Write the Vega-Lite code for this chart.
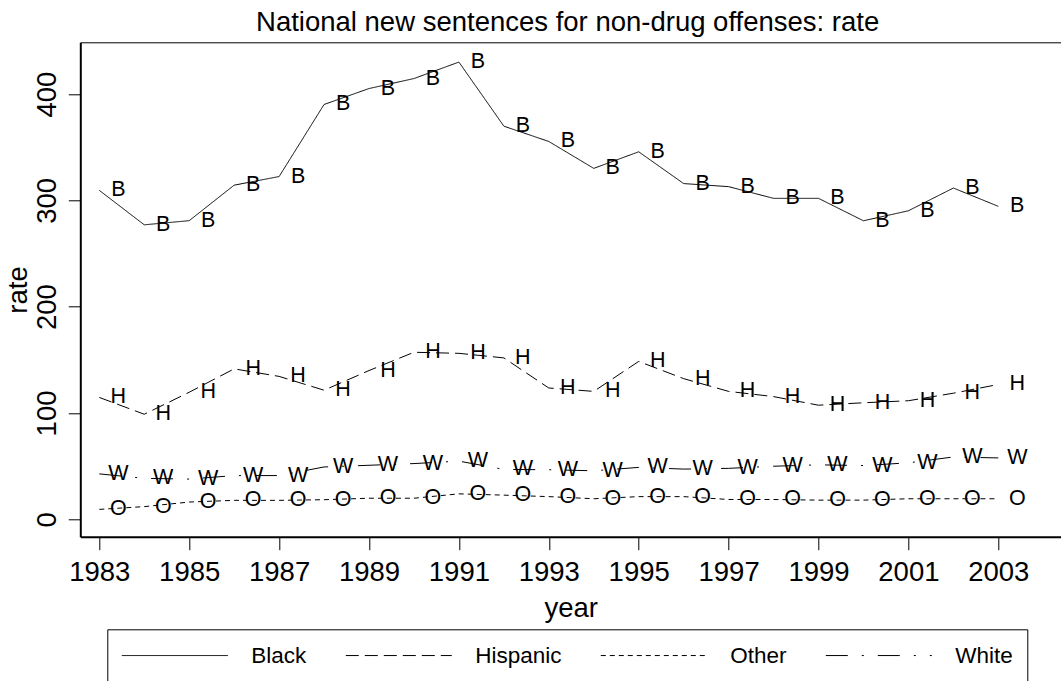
{
  "$schema": "https://vega.github.io/schema/vega-lite/v6.json",
  "autosize": "none",
  "width": 980.7,
  "height": 494.4,
  "padding": {"left": 80.3, "top": 42.3, "right": 0, "bottom": 144.3},
  "background": "white",
  "config": {
    "view": {"stroke": null},
    "font": "Liberation Sans",
    "axis": {"grid": false, "labelFont": "Liberation Sans", "titleFont": "Liberation Sans", "labelColor": "black", "titleColor": "black", "domainColor": "black", "tickColor": "black", "titleFontWeight": "normal"}
  },
  "title": {
    "text": "National new sentences for non-drug offenses: rate",
    "font": "Liberation Sans",
    "fontSize": 27.5,
    "fontWeight": "normal",
    "color": "black",
    "anchor": "middle",
    "frame": "group",
    "baseline": "bottom",
    "offset": -22,
    "dx": -3
  },
  "data": {
    "values": [
      {"year": 1983, "group": "Black", "letter": "B", "rate": 309.4},
      {"year": 1984, "group": "Black", "letter": "B", "rate": 277.0},
      {"year": 1985, "group": "Black", "letter": "B", "rate": 280.9},
      {"year": 1986, "group": "Black", "letter": "B", "rate": 314.3},
      {"year": 1987, "group": "Black", "letter": "B", "rate": 322.4},
      {"year": 1988, "group": "Black", "letter": "B", "rate": 390.2},
      {"year": 1989, "group": "Black", "letter": "B", "rate": 405.2},
      {"year": 1990, "group": "Black", "letter": "B", "rate": 414.6},
      {"year": 1991, "group": "Black", "letter": "B", "rate": 430.1},
      {"year": 1992, "group": "Black", "letter": "B", "rate": 369.8},
      {"year": 1993, "group": "Black", "letter": "B", "rate": 355.4},
      {"year": 1994, "group": "Black", "letter": "B", "rate": 330.1},
      {"year": 1995, "group": "Black", "letter": "B", "rate": 345.7},
      {"year": 1996, "group": "Black", "letter": "B", "rate": 315.8},
      {"year": 1997, "group": "Black", "letter": "B", "rate": 312.9},
      {"year": 1998, "group": "Black", "letter": "B", "rate": 301.9},
      {"year": 1999, "group": "Black", "letter": "B", "rate": 301.9},
      {"year": 2000, "group": "Black", "letter": "B", "rate": 280.8},
      {"year": 2001, "group": "Black", "letter": "B", "rate": 290.2},
      {"year": 2002, "group": "Black", "letter": "B", "rate": 311.6},
      {"year": 2003, "group": "Black", "letter": "B", "rate": 294.4},
      {"year": 1983, "group": "Hispanic", "letter": "H", "rate": 114.6},
      {"year": 1984, "group": "Hispanic", "letter": "H", "rate": 98.8},
      {"year": 1985, "group": "Hispanic", "letter": "H", "rate": 119.5},
      {"year": 1986, "group": "Hispanic", "letter": "H", "rate": 141.5},
      {"year": 1987, "group": "Hispanic", "letter": "H", "rate": 134.4},
      {"year": 1988, "group": "Hispanic", "letter": "H", "rate": 121.4},
      {"year": 1989, "group": "Hispanic", "letter": "H", "rate": 139.9},
      {"year": 1990, "group": "Hispanic", "letter": "H", "rate": 157.1},
      {"year": 1991, "group": "Hispanic", "letter": "H", "rate": 156.1},
      {"year": 1992, "group": "Hispanic", "letter": "H", "rate": 151.8},
      {"year": 1993, "group": "Hispanic", "letter": "H", "rate": 123.5},
      {"year": 1994, "group": "Hispanic", "letter": "H", "rate": 120.3},
      {"year": 1995, "group": "Hispanic", "letter": "H", "rate": 148.5},
      {"year": 1996, "group": "Hispanic", "letter": "H", "rate": 132.3},
      {"year": 1997, "group": "Hispanic", "letter": "H", "rate": 120.3},
      {"year": 1998, "group": "Hispanic", "letter": "H", "rate": 115.4},
      {"year": 1999, "group": "Hispanic", "letter": "H", "rate": 107.3},
      {"year": 2000, "group": "Hispanic", "letter": "H", "rate": 109.6},
      {"year": 2001, "group": "Hispanic", "letter": "H", "rate": 111.5},
      {"year": 2002, "group": "Hispanic", "letter": "H", "rate": 118.6},
      {"year": 2003, "group": "Hispanic", "letter": "H", "rate": 126.8},
      {"year": 1983, "group": "Other", "letter": "O", "rate": 9.3},
      {"year": 1984, "group": "Other", "letter": "O", "rate": 11.9},
      {"year": 1985, "group": "Other", "letter": "O", "rate": 16.2},
      {"year": 1986, "group": "Other", "letter": "O", "rate": 17.8},
      {"year": 1987, "group": "Other", "letter": "O", "rate": 17.8},
      {"year": 1988, "group": "Other", "letter": "O", "rate": 18.4},
      {"year": 1989, "group": "Other", "letter": "O", "rate": 19.8},
      {"year": 1990, "group": "Other", "letter": "O", "rate": 19.8},
      {"year": 1991, "group": "Other", "letter": "O", "rate": 23.9},
      {"year": 1992, "group": "Other", "letter": "O", "rate": 22.7},
      {"year": 1993, "group": "Other", "letter": "O", "rate": 21.3},
      {"year": 1994, "group": "Other", "letter": "O", "rate": 19.3},
      {"year": 1995, "group": "Other", "letter": "O", "rate": 21.3},
      {"year": 1996, "group": "Other", "letter": "O", "rate": 21.3},
      {"year": 1997, "group": "Other", "letter": "O", "rate": 18.6},
      {"year": 1998, "group": "Other", "letter": "O", "rate": 18.6},
      {"year": 1999, "group": "Other", "letter": "O", "rate": 18.0},
      {"year": 2000, "group": "Other", "letter": "O", "rate": 18.0},
      {"year": 2001, "group": "Other", "letter": "O", "rate": 19.3},
      {"year": 2002, "group": "Other", "letter": "O", "rate": 19.3},
      {"year": 2003, "group": "Other", "letter": "O", "rate": 19.3},
      {"year": 1983, "group": "White", "letter": "W", "rate": 42.7},
      {"year": 1984, "group": "White", "letter": "W", "rate": 38.5},
      {"year": 1985, "group": "White", "letter": "W", "rate": 37.8},
      {"year": 1986, "group": "White", "letter": "W", "rate": 41.1},
      {"year": 1987, "group": "White", "letter": "W", "rate": 41.1},
      {"year": 1988, "group": "White", "letter": "W", "rate": 49.2},
      {"year": 1989, "group": "White", "letter": "W", "rate": 50.8},
      {"year": 1990, "group": "White", "letter": "W", "rate": 52.4},
      {"year": 1991, "group": "White", "letter": "W", "rate": 54.7},
      {"year": 1992, "group": "White", "letter": "W", "rate": 46.9},
      {"year": 1993, "group": "White", "letter": "W", "rate": 46.6},
      {"year": 1994, "group": "White", "letter": "W", "rate": 45.6},
      {"year": 1995, "group": "White", "letter": "W", "rate": 48.8},
      {"year": 1996, "group": "White", "letter": "W", "rate": 47.2},
      {"year": 1997, "group": "White", "letter": "W", "rate": 47.9},
      {"year": 1998, "group": "White", "letter": "W", "rate": 49.9},
      {"year": 1999, "group": "White", "letter": "W", "rate": 51.2},
      {"year": 2000, "group": "White", "letter": "W", "rate": 50.5},
      {"year": 2001, "group": "White", "letter": "W", "rate": 53.1},
      {"year": 2002, "group": "White", "letter": "W", "rate": 58.6},
      {"year": 2003, "group": "White", "letter": "W", "rate": 57.7}
    ]
  },
  "resolve": {"axis": {"x": "independent"}},
  "layer": [
    {
      "mark": {"type": "line", "color": "black", "strokeWidth": 1},
      "encoding": {
        "x": {
          "field": "year", "type": "quantitative",
          "scale": {"domain": [1982.577, 2004.395], "nice": false, "zero": false},
          "axis": {
            "orient": "bottom",
            "values": [1983, 1985, 1987, 1989, 1991, 1993, 1995, 1997, 1999, 2001, 2003],
            "format": "d",
            "title": "year",
            "labelFontSize": 27.5,
            "titleFontSize": 27.5,
            "labelFlush": false,
            "labelOverlap": false,
            "labelBaseline": "top",
            "labelPadding": 8.3,
            "tickSize": 13,
            "tickWidth": 1,
            "domainWidth": 2,
            "titleBaseline": "alphabetic",
            "titleY": 80
          }
        },
        "y": {
          "field": "rate", "type": "quantitative",
          "scale": {"domain": [-16.4, 448.7], "nice": false, "zero": false},
          "axis": {
            "values": [0, 100, 200, 300, 400],
            "title": "rate",
            "labelFontSize": 27.5,
            "titleFontSize": 27.5,
            "labelAngle": 270,
            "labelAlign": "center",
            "labelBaseline": "alphabetic",
            "labelPadding": 13,
            "labelFlush": false,
            "labelOverlap": false,
            "tickSize": 12,
            "tickWidth": 1,
            "domainWidth": 2,
            "titleAngle": 270,
            "titleAlign": "center",
            "titleBaseline": "alphabetic",
            "titleX": -54.3,
            "titleY": 247.2
          }
        },
        "detail": {"field": "group"},
        "strokeDash": {
          "field": "group", "type": "nominal",
          "scale": {"domain": ["Black", "Hispanic", "Other", "White"], "range": [[1, 0], [13, 6], [5, 4], [22, 14, 2, 14]]},
          "legend": {
            "title": null,
            "orient": "none",
            "legendX": 27,
            "legendY": 587,
            "direction": "horizontal",
            "columns": 4,
            "padding": 14,
            "strokeColor": "black",
            "fillColor": "white",
            "labelFont": "Liberation Sans",
            "labelFontSize": 22.5,
            "labelColor": "black",
            "labelOffset": 106,
            "columnPadding": 36,
            "gridAlign": "each",
            "symbolType": "M-1,0H8.217",
            "symbolSize": 529,
            "symbolStrokeColor": "black",
            "symbolFillColor": "transparent",
            "symbolStrokeWidth": 1
          }
        }
      }
    },
    {
      "mark": {"type": "text", "color": "black", "font": "Liberation Sans", "fontSize": 21.5, "align": "center", "baseline": "middle", "dx": 19},
      "encoding": {
        "x": {
          "field": "year", "type": "quantitative",
          "axis": {"orient": "top", "labels": false, "ticks": false, "title": null, "domain": true, "domainWidth": 1, "minExtent": 0, "maxExtent": 0, "labelPadding": 0, "tickSize": 0}
        },
        "y": {"field": "rate", "type": "quantitative"},
        "text": {"field": "letter"}
      }
    }
  ]
}
